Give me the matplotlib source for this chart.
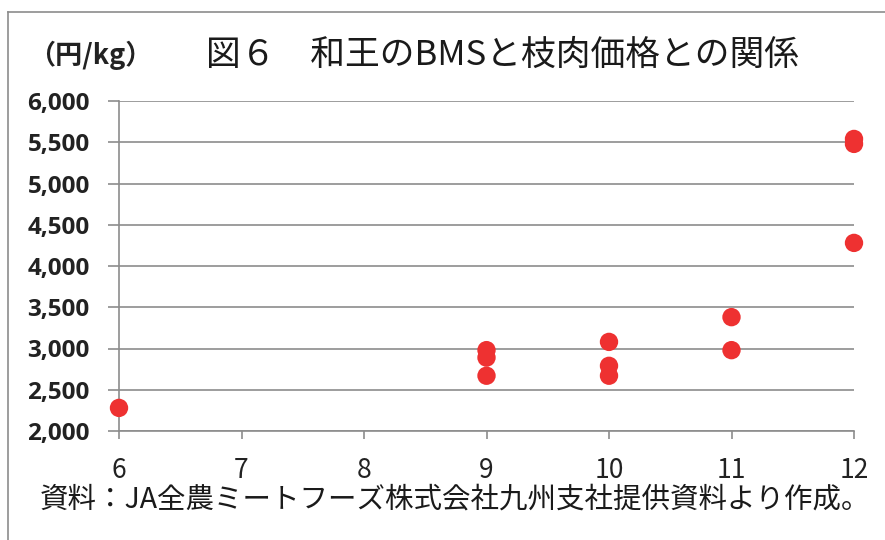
import matplotlib
matplotlib.use("Agg")
import matplotlib.pyplot as plt
from matplotlib.lines import Line2D

plt.rcParams['font.family'] = ['Noto Sans CJK JP', 'DejaVu Sans']

# BMS grade vs. carcass price (yen/kg)
bms = [6, 9, 9, 9, 10, 10, 10, 11, 11, 12, 12, 12]
price = [2280, 2980, 2890, 2670, 3080, 2790, 2670, 3380, 2980, 5540, 5480, 4280]

x_ticks = [6, 7, 8, 9, 10, 11, 12]
y_ticks = [2000, 2500, 3000, 3500, 4000, 4500, 5000, 5500, 6000]
x_labels = [str(v) for v in x_ticks]
y_labels = [f"{v:,}" for v in y_ticks]

title = "図６　和王のBMSと枝肉価格との関係"
unit_label = "（円/kg）"
source = "資料：JA全農ミートフーズ株式会社九州支社提供資料より作成。"

W, H = 885, 540
fig = plt.figure(figsize=(W / 100, H / 100), dpi=100)
fig.patch.set_facecolor("white")

ax = fig.add_axes([119 / W, 1 - 431 / H, (854 - 119) / W, (431 - 101) / H])
grid_col = "#8c8c8c"

ax.scatter(bms, price, s=175, color="#ee3131", edgecolors="none", zorder=5, clip_on=False)

ax.set_xlim(6, 12)
ax.set_ylim(2000, 6000)
ax.set_xticks(x_ticks, labels=x_labels, fontsize=19, color="#222222")
ax.set_yticks(y_ticks, labels=y_labels, fontsize=17.5, fontweight="bold",
              fontfamily="Open Sans", color="#222222")

ax.grid(axis="y", color=grid_col, linewidth=1.2)
ax.set_axisbelow(True)
for side in ("top", "right"):
    ax.spines[side].set_visible(False)
for side in ("left", "bottom"):
    ax.spines[side].set_color(grid_col)
    ax.spines[side].set_linewidth(1.2)

ax.tick_params(axis="y", length=8, width=1.2, color=grid_col, pad=13)
ax.tick_params(axis="x", length=6, width=1.2, color=grid_col, pad=13)

fig.text(502 / W, 1 - 55 / H, title, ha="center", va="center", fontsize=25, color="#1a1a1a")
fig.text(28 / W, 1 - 55 / H, unit_label, ha="left", va="center", fontsize=19.5,
         fontweight="bold", color="#222222")
fig.text(40 / W, 1 - 500 / H, source, ha="left", va="center", fontsize=20.5, color="#1a1a1a")

# Outer frame: left and top edges
fig.add_artist(Line2D([8 / W, 8 / W], [0, 1 - 12 / H], transform=fig.transFigure,
                      color=grid_col, linewidth=1.2))
fig.add_artist(Line2D([8 / W, 1], [1 - 12 / H, 1 - 12 / H], transform=fig.transFigure,
                      color=grid_col, linewidth=1.2))

fig.savefig("out.png", dpi=100, facecolor="white")
